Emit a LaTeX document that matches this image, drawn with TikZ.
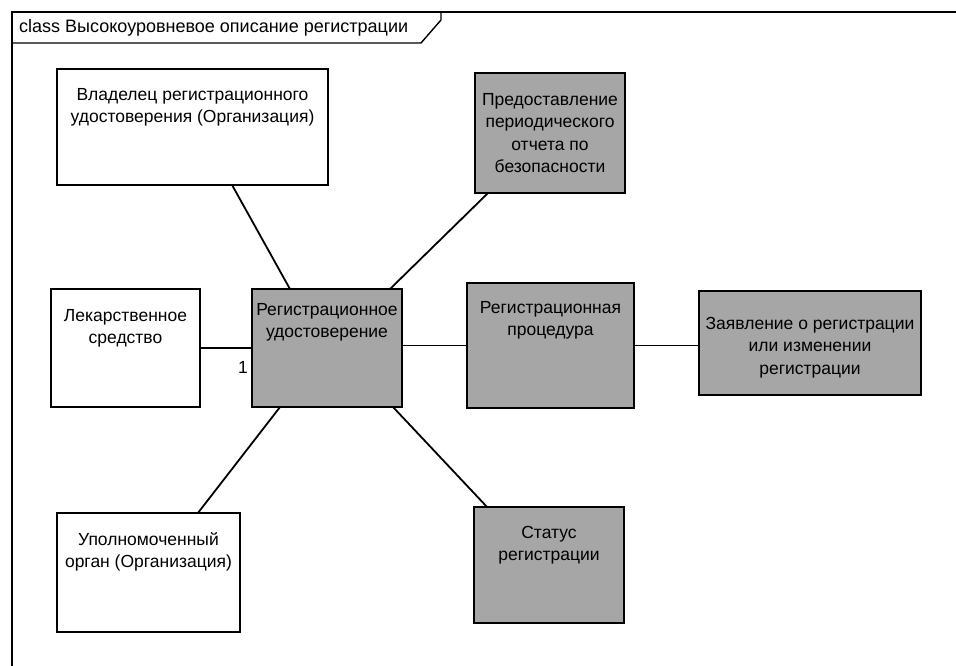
\documentclass[tikz,border=0pt]{standalone}
\usepackage{fontspec}
\setmainfont{Liberation Sans}
\usetikzlibrary{calc}
\definecolor{boxgray}{RGB}{166,166,166}
\tikzset{
  box/.style={draw=black, line width=2pt, inner sep=0pt, outer sep=0pt, rectangle},
  white box/.style={box, fill=white},
  gray box/.style={box, fill=boxgray},
  lab/.style={anchor=north, inner sep=0pt, align=center, font=\fontsize{17.5}{22.5}\selectfont},
  conn/.style={draw=black, line width=1.8pt},
  frameline/.style={draw=black, line width=1.8pt}
}
\begin{document}
\begin{tikzpicture}[x=1pt,y=-1pt]
\useasboundingbox (0,0) rectangle (956,666);
% frame
\coordinate (fTL) at (12,12);
\coordinate (fBL) at (12,666);
\coordinate (fTR) at (956,12);
\coordinate (tabA) at (12,43);
\coordinate (tabB) at (421,43);
\coordinate (tabC) at (441,20);
\coordinate (tabD) at (441,12);
\draw[frameline] (fBL) -- (fTL) -- (fTR);
\draw[frameline, line width=1.4pt] (tabA) -- (tabB) -- (tabC) -- (tabD);
\node[anchor=west, inner sep=0pt, font=\fontsize{18}{20}\selectfont] (title) at (19,28) {class Высокоуровневое описание регистрации};
% boxes
\node[white box, minimum width=271pt, minimum height=116pt] (own) at (192.5,127) {};
\node[lab] (ownT) at ($(own.north)+(0,19)$) {Владелец регистрационного\\удостоверения (Организация)};
\node[gray box, minimum width=150pt, minimum height=120pt] (pred) at (550,133) {};
\node[lab] (predT) at ($(pred.north)+(0,20)$) {Предоставление\\периодического\\отчета по\\безопасности};
\node[white box, minimum width=149pt, minimum height=118pt] (lek) at (125.5,348) {};
\node[lab] (lekT) at ($(lek.north)+(0,20)$) {Лекарственное\\средство};
\node[gray box, minimum width=150pt, minimum height=118pt] (cent) at (327,348) {};
\node[lab] (centT) at ($(cent.north)+(0,14)$) {Регистрационное\\удостоверение};
\node[gray box, minimum width=167pt, minimum height=125pt] (proc) at (550.5,345.5) {};
\node[lab] (procT) at ($(proc.north)+(0,18)$) {Регистрационная\\процедура};
\node[gray box, minimum width=222pt, minimum height=104pt] (zay) at (810,343) {};
\node[lab] (zayT) at ($(zay.north)+(0,26)$) {Заявление о регистрации\\или изменении\\регистрации};
\node[white box, minimum width=183pt, minimum height=119pt] (upol) at (148.5,572.5) {};
\node[lab] (upolT) at ($(upol.north)+(0,19)$) {Уполномоченный\\орган (Организация)};
\node[gray box, minimum width=150pt, minimum height=116pt] (stat) at (549,565) {};
\node[lab] (statT) at ($(stat.north)+(0,19)$) {Статус\\регистрации};
% connectors
\draw[conn] ($(own.south west)!0.646!(own.south east)$) -- ($(cent.north west)!0.253!(cent.north east)$);
\draw[conn] ($(pred.south west)!0.087!(pred.south east)$) -- ($(cent.north west)!0.92!(cent.north east)$);
\draw[conn] (lek.east) -- (cent.west);
\draw[conn] (cent.east |- proc.west) -- (proc.west);
\draw[conn] (proc.east) -- (zay.west |- proc.east);
\draw[conn] ($(cent.south west)!0.187!(cent.south east)$) -- ($(upol.north west)!0.77!(upol.north east)$);
\draw[conn] ($(cent.south west)!0.94!(cent.south east)$) -- ($(stat.north west)!0.087!(stat.north east)$);
\node[font=\fontsize{17.5}{20}\selectfont, inner sep=0pt] (one) at (243,367) {1};
\end{tikzpicture}
\end{document}
